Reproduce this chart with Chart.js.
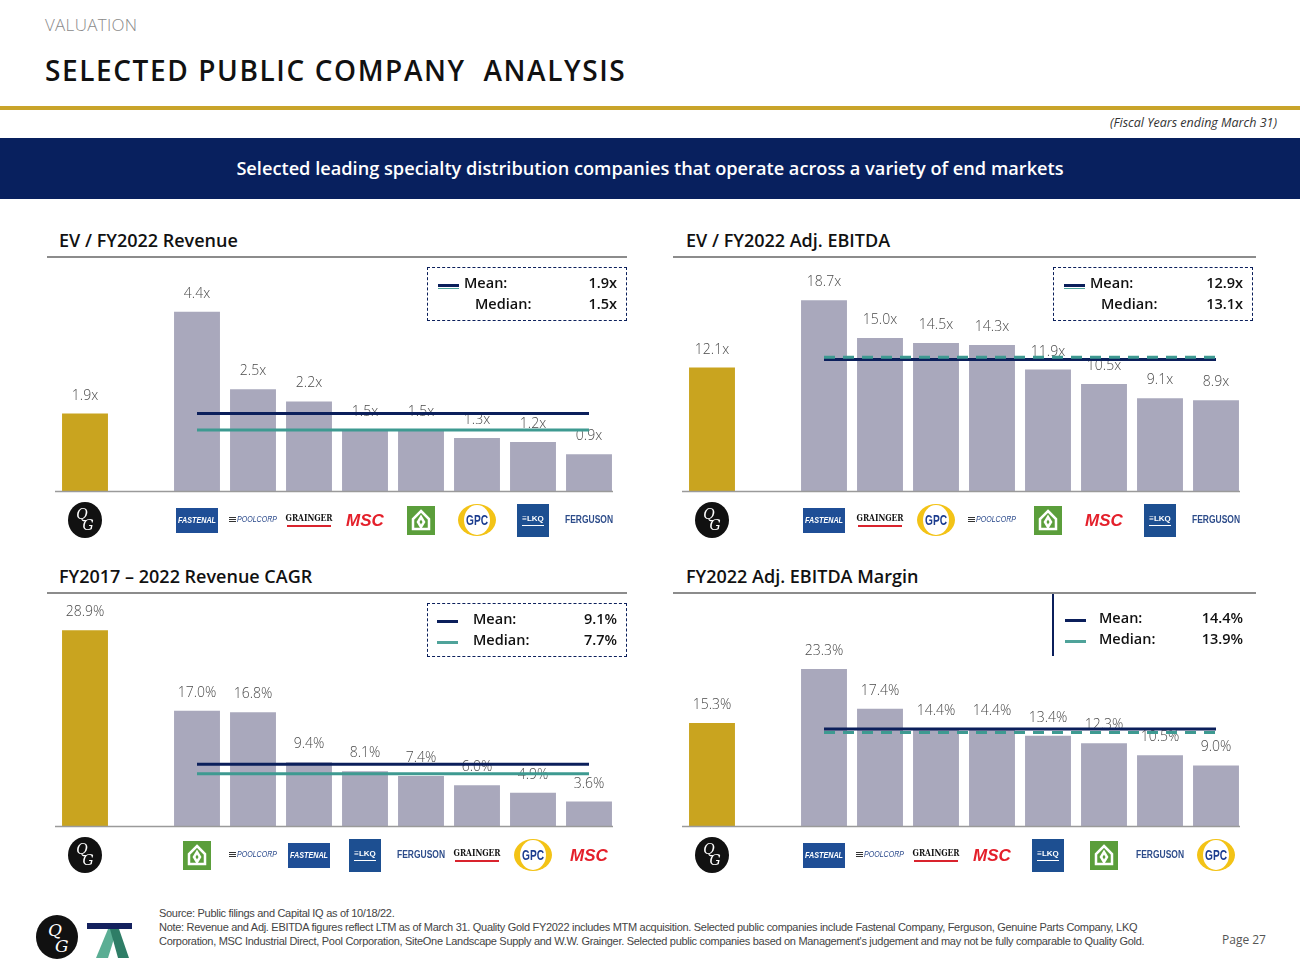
<!DOCTYPE html>
<html>
<head>
<meta charset="utf-8">
<script src="https://cdn.jsdelivr.net/npm/chart.js@4.4.0/dist/chart.umd.min.js"></script>
<style>
  body { margin: 0; width: 1300px; height: 978px; position: relative; background: #fff; font-family: "Open Sans", sans-serif; overflow: hidden; }
  .abs { position: absolute; }
  #kicker { left: 45px; top: 13px; font-size: 17px; font-weight: 300; color: #8a8a8a; letter-spacing: 0.3px; }
  #title { left: 45px; top: 53px; font-size: 28px; font-weight: 600; color: #111; letter-spacing: 1.6px; line-height: 34px; white-space: nowrap; }
  #goldline { left: 0; top: 106px; width: 1300px; height: 4px; background: #C9A42A; }
  #fiscal { right: 23px; top: 114px; font-size: 12.5px; font-style: italic; color: #333; }
  #banner { left: 0; top: 138px; width: 1300px; height: 61px; background: #08205E; color: #fff; font-size: 18.2px; font-weight: 600; text-align: center; line-height: 61px; }
  .sec { font-size: 18px; font-weight: 600; color: #111; line-height: 24px; white-space: nowrap; }
  .rule { height: 2px; background: #8c8c8c; }
  .legend { box-sizing: border-box; border: 1.5px dashed #0B1F5B; font-size: 14.5px; font-weight: 600; color: #111; }
  .legend .row { position: absolute; white-space: nowrap; line-height: 20px; }
  .legend .val { position: absolute; right: 9px; line-height: 20px; }
  .icon { position: absolute; height: 3px; }
  canvas { position: absolute; }
  #foot { left: 159px; top: 906px; font-family: "Liberation Sans Narrow", "Liberation Sans", sans-serif; font-size: 11px; line-height: 14px; color: #444; letter-spacing: -0.3px; white-space: nowrap; }
  #page { left: 1222px; top: 931px; font-size: 12px; color: #555; }
</style>
</head>
<body>
<div id="kicker" class="abs">VALUATION</div>
<div id="title" class="abs">SELECTED PUBLIC COMPANY&nbsp; ANALYSIS</div>
<div id="goldline" class="abs"></div>
<div id="fiscal" class="abs">(Fiscal Years ending March 31)</div>
<div id="banner" class="abs">Selected leading specialty distribution companies that operate across a variety of end markets</div>

<!-- section headings -->
<div class="abs sec" style="left:59px;top:228px">EV / FY2022 Revenue</div>
<div class="abs rule" style="left:47px;top:256px;width:580px"></div>
<div class="abs sec" style="left:686px;top:228px">EV / FY2022 Adj. EBITDA</div>
<div class="abs rule" style="left:673px;top:256px;width:583px"></div>
<div class="abs sec" style="left:59px;top:564px">FY2017 – 2022 Revenue CAGR</div>
<div class="abs rule" style="left:47px;top:592px;width:580px"></div>
<div class="abs sec" style="left:686px;top:564px">FY2022 Adj. EBITDA Margin</div>
<div class="abs rule" style="left:673px;top:592px;width:583px"></div>

<canvas id="c1" width="580" height="290" style="left:47px;top:258px"></canvas>
<canvas id="c2" width="580" height="290" style="left:674px;top:258px"></canvas>
<canvas id="c3" width="580" height="290" style="left:47px;top:593px"></canvas>
<canvas id="c4" width="580" height="290" style="left:674px;top:593px"></canvas>

<!-- legends -->
<div class="abs legend" style="left:427px;top:267px;width:200px;height:54px">
  <div class="icon" style="left:10px;top:16px;width:21px;background:#0B1F5B"></div>
  <div class="icon" style="left:10px;top:19.5px;width:21px;height:1.5px;background:#4FA39A"></div>
  <div class="row" style="left:36px;top:5px">Mean:</div><div class="val" style="top:5px">1.9x</div>
  <div class="row" style="left:47px;top:26px">Median:</div><div class="val" style="top:26px">1.5x</div>
</div>
<div class="abs legend" style="left:1053px;top:267px;width:200px;height:54px">
  <div class="icon" style="left:10px;top:16px;width:21px;background:#0B1F5B"></div>
  <div class="icon" style="left:10px;top:19.5px;width:21px;height:1.5px;background:#4FA39A"></div>
  <div class="row" style="left:36px;top:5px">Mean:</div><div class="val" style="top:5px">12.9x</div>
  <div class="row" style="left:47px;top:26px">Median:</div><div class="val" style="top:26px">13.1x</div>
</div>
<div class="abs legend" style="left:427px;top:603px;width:200px;height:54px">
  <div class="icon" style="left:9px;top:16px;width:21px;background:#0B1F5B"></div>
  <div class="icon" style="left:9px;top:37px;width:21px;background:#4FA39A"></div>
  <div class="row" style="left:45px;top:5px">Mean:</div><div class="val" style="top:5px">9.1%</div>
  <div class="row" style="left:45px;top:26px">Median:</div><div class="val" style="top:26px">7.7%</div>
</div>
<div class="abs" style="left:1052px;top:594px;width:2px;height:62px;background:#0B1F5B"></div>
<div class="abs legend" style="left:1054px;top:603px;width:200px;height:54px;border:none">
  <div class="icon" style="left:11px;top:16px;width:21px;background:#0B1F5B"></div>
  <div class="icon" style="left:11px;top:37px;width:21px;background:#4FA39A"></div>
  <div class="row" style="left:45px;top:5px">Mean:</div><div class="val" style="top:5px;right:11px">14.4%</div>
  <div class="row" style="left:45px;top:26px">Median:</div><div class="val" style="top:26px;right:11px">13.9%</div>
</div>

<!-- footer -->
<svg class="abs" style="left:34px;top:914px" width="100" height="48">
  <ellipse cx="23" cy="23" rx="21" ry="22" fill="#111"/>
  <text x="14" y="22" fill="#fff" font-family="DejaVu Serif" font-style="italic" font-size="17">Q</text>
  <text x="21" y="38" fill="#fff" font-family="DejaVu Serif" font-style="italic" font-size="17">G</text>
  <rect x="53" y="9" width="45" height="6" fill="#14215E"/>
  <polygon points="74,15 83,15 74,44 62,44" fill="#5BAE94"/>
  <polygon points="76,15 85,15 95,44 84,44" fill="#2E7D66"/>
</svg>
<div id="foot" class="abs">Source: Public filings and Capital IQ as of 10/18/22.<br>Note: Revenue and Adj. EBITDA figures reflect LTM as of March 31. Quality Gold FY2022 includes MTM acquisition. Selected public companies include Fastenal Company, Ferguson, Genuine Parts Company, LKQ<br>Corporation, MSC Industrial Direct, Pool Corporation, SiteOne Landscape Supply and W.W. Grainger. Selected public companies based on Management's judgement and may not be fully comparable to Quality Gold.</div>
<div id="page" class="abs">Page 27</div>

<script>
// EV / FY2022 Revenue
const revCompanies = ['QG', '', 'FASTENAL', 'POOLCORP', 'GRAINGER', 'MSC', 'SITEONE', 'GPC', 'LKQ', 'FERGUSON'];
const revMultiples = [1.9, null, 4.4, 2.5, 2.2, 1.5, 1.5, 1.3, 1.2, 0.9];
const revMean = 1.9;
const revMedian = 1.5;

// EV / FY2022 Adj. EBITDA
const ebitdaCompanies = ['QG', '', 'FASTENAL', 'GRAINGER', 'GPC', 'POOLCORP', 'SITEONE', 'MSC', 'LKQ', 'FERGUSON'];
const ebitdaMultiples = [12.1, null, 18.7, 15.0, 14.5, 14.3, 11.9, 10.5, 9.1, 8.9];
const ebitdaMean = 12.9;
const ebitdaMedian = 13.1;

// FY2017 - 2022 Revenue CAGR
const cagrCompanies = ['QG', '', 'SITEONE', 'POOLCORP', 'FASTENAL', 'LKQ', 'FERGUSON', 'GRAINGER', 'GPC', 'MSC'];
const cagrValues = [28.9, null, 17.0, 16.8, 9.4, 8.1, 7.4, 6.0, 4.9, 3.6];
const cagrMean = 9.1;
const cagrMedian = 7.7;

// FY2022 Adj. EBITDA Margin
const marginCompanies = ['QG', '', 'FASTENAL', 'POOLCORP', 'GRAINGER', 'MSC', 'LKQ', 'SITEONE', 'FERGUSON', 'GPC'];
const marginValues = [15.3, null, 23.3, 17.4, 14.4, 14.4, 13.4, 12.3, 10.5, 9.0];
const marginMean = 14.4;
const marginMedian = 13.9;

const GOLD = '#C9A41F';
const GREY = '#A9A8BC';
const NAVY = '#0B1F5B';
const TEAL = '#3E9A91';

// Logo drawings (rough stand-ins for the company marks)
function drawLogo(ctx, key, x, y) {
  ctx.save();
  ctx.textAlign = 'center';
  ctx.textBaseline = 'middle';
  if (key === 'QG') {
    ctx.fillStyle = '#111';
    ctx.beginPath(); ctx.ellipse(x, y, 17, 18, 0, 0, Math.PI * 2); ctx.fill();
    ctx.fillStyle = '#fff';
    ctx.font = 'italic 14px "DejaVu Serif"';
    ctx.fillText('Q', x - 3, y - 5);
    ctx.fillText('G', x + 3, y + 6);
  } else if (key === 'FASTENAL') {
    ctx.fillStyle = '#1F4E96';
    ctx.fillRect(x - 21, y - 12, 42, 25);
    ctx.fillStyle = '#fff';
    ctx.font = 'italic bold 9px "Liberation Sans Narrow", "Liberation Sans"';
    ctx.fillText('FASTENAL', x, y + 1, 38);
  } else if (key === 'POOLCORP') {
    ctx.fillStyle = '#333';
    for (let i = 0; i < 3; i++) ctx.fillRect(x - 24, y - 3 + i * 2, 7, 1);
    ctx.fillStyle = '#2B4A8C';
    ctx.font = 'italic 8.5px "Liberation Sans"';
    ctx.fillText('POOLCORP', x + 4, y, 40);
  } else if (key === 'GRAINGER') {
    ctx.fillStyle = '#111';
    ctx.font = 'bold 10px "DejaVu Serif"';
    ctx.fillText('GRAINGER', x, y - 2, 47);
    ctx.fillStyle = '#D9232D';
    ctx.fillRect(x - 22, y + 5, 44, 2);
  } else if (key === 'MSC') {
    ctx.fillStyle = '#E4202B';
    ctx.font = 'italic bold 17px "Liberation Sans"';
    ctx.fillText('MSC', x, y + 1, 42);
  } else if (key === 'SITEONE') {
    ctx.fillStyle = '#5B9E3B';
    ctx.fillRect(x - 14, y - 14, 28, 29);
    ctx.strokeStyle = '#fff';
    ctx.lineWidth = 2.5;
    ctx.beginPath();
    ctx.moveTo(x, y - 9); ctx.lineTo(x + 8, y - 1); ctx.lineTo(x + 8, y + 9);
    ctx.lineTo(x - 8, y + 9); ctx.lineTo(x - 8, y - 1); ctx.closePath(); ctx.stroke();
    ctx.beginPath(); ctx.moveTo(x, y + 7); ctx.lineTo(x - 3, y + 2); ctx.lineTo(x, y - 3); ctx.lineTo(x + 3, y + 2); ctx.closePath(); ctx.stroke();
  } else if (key === 'GPC') {
    ctx.fillStyle = '#F3C316';
    ctx.beginPath(); ctx.ellipse(x, y, 19, 16, 0, 0, Math.PI * 2); ctx.fill();
    ctx.fillStyle = '#fff';
    ctx.beginPath(); ctx.ellipse(x, y, 13, 15, 0, 0, Math.PI * 2); ctx.fill();
    ctx.fillStyle = '#1C3D8F';
    ctx.font = 'bold 15px "Liberation Sans Narrow", "Liberation Sans"';
    ctx.fillText('GPC', x, y + 1, 22);
  } else if (key === 'LKQ') {
    ctx.fillStyle = '#1D4F91';
    ctx.fillRect(x - 16, y - 16, 32, 33);
    ctx.fillStyle = '#fff';
    ctx.font = 'bold 8px "Liberation Sans"';
    ctx.fillText('≡LKQ', x, y - 1, 26);
    ctx.fillRect(x - 11, y + 5, 22, 1);
  } else if (key === 'FERGUSON') {
    ctx.fillStyle = '#2D4C8A';
    ctx.font = 'bold 10px "Liberation Sans Narrow", "Liberation Sans"';
    ctx.fillText('FERGUSON', x, y, 48);
  }
  ctx.restore();
}

const slidePlugin = {
  id: 'slidePlugin',
  afterDatasetDraw(chart, args, opts) {
    if (args.index !== 0) return;
    const ctx = chart.ctx;
    const meta = args.meta;
    ctx.save();
    ctx.font = '300 14px "Open Sans"';
    ctx.fillStyle = '#4a4a4a';
    ctx.textAlign = 'center';
    ctx.textBaseline = 'middle';
    meta.data.forEach((bar, i) => {
      const v = chart.data.datasets[0].data[i];
      if (v == null) return;
      ctx.fillText(v.toFixed(1) + opts.suffix, bar.x, bar.y - 18);
    });
    ctx.restore();
  },
  afterDraw(chart) {
    const ctx = chart.ctx;
    const area = chart.chartArea;
    const xs = chart.scales.x;
    ctx.save();
    ctx.strokeStyle = '#9a9a9a';
    ctx.lineWidth = 1.5;
    ctx.beginPath();
    ctx.moveTo(area.left - 2, area.bottom + 0.5);
    ctx.lineTo(area.right - 4, area.bottom + 0.5);
    ctx.stroke();
    ctx.restore();
    chart.data.labels.forEach((key, i) => {
      if (key) drawLogo(ctx, key, xs.getPixelForValue(i), area.bottom + 29);
    });
  }
};

function makeChart(id, companies, values, mean, median, yMax, suffix, medianDashed) {
  const peerLine = v => companies.map((c, i) => (i >= 2 ? v : null));
  return new Chart(document.getElementById(id), {
    type: 'bar',
    data: {
      labels: companies,
      datasets: [
        {
          data: values,
          backgroundColor: values.map((v, i) => (i === 0 ? GOLD : GREY)),
          categoryPercentage: 1,
          barPercentage: 0.82,
          order: 3
        },
        {
          type: 'line',
          data: peerLine(mean),
          borderColor: NAVY,
          borderWidth: 3,
          pointRadius: 0,
          fill: false,
          order: medianDashed ? 2 : 1
        },
        {
          type: 'line',
          data: peerLine(median),
          borderColor: TEAL,
          borderWidth: 3,
          borderDash: medianDashed ? [11, 8] : [],
          pointRadius: 0,
          fill: false,
          order: medianDashed ? 1 : 2
        }
      ]
    },
    options: {
      responsive: false,
      animation: false,
      devicePixelRatio: 1,
      layout: { padding: { left: 10, right: 10, top: 0, bottom: 57 } },
      scales: {
        x: { display: false, offset: true },
        y: { display: false, min: 0, max: yMax }
      },
      plugins: {
        legend: { display: false },
        tooltip: { enabled: false },
        slidePlugin: { suffix: suffix }
      }
    },
    plugins: [slidePlugin]
  });
}

makeChart('c1', revCompanies, revMultiples, revMean, revMedian, 5.72, 'x', false);
makeChart('c2', ebitdaCompanies, ebitdaMultiples, ebitdaMean, ebitdaMedian, 22.84, 'x', true);
makeChart('c3', cagrCompanies, cagrValues, cagrMean, cagrMedian, 34.4, '%', false);
makeChart('c4', marginCompanies, marginValues, marginMean, marginMedian, 34.6, '%', true);
</script>
</body>
</html>
